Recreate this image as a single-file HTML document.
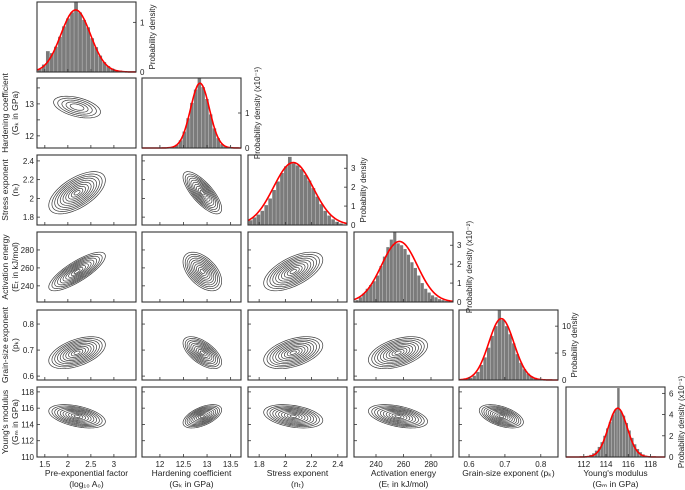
<!DOCTYPE html>
<html><head><meta charset="utf-8"><style>
html,body{margin:0;padding:0;background:#fff;}
svg{display:block;font-family:"Liberation Sans",sans-serif;}
</style></head><body>
<svg id="c" width="685" height="490" viewBox="0 0 685 490"></svg>
<script>
// ---- data ----
const varNames = ["Pre-exponential factor","Hardening coefficient","Stress exponent","Activation energy","Grain-size exponent","Young's modulus"];
const varUnits = ["(log\u2081\u2080 A\u2080)","(G\u2096 in GPa)","(n\u209c)","(E\u209c in kJ/mol)","(p\u2096)","(G\u2098 in GPa)"];
const xRanges = [[1.33,3.48],[11.62,13.72],[1.715,2.47],[224,296],[0.572,0.848],[110.4,119.3]];
const yRanges = [[0,1],[11.62,13.81],[1.716,2.463],[222,300],[0.585,0.854],[110,118.6]];
const xTicks = [[1.5,2,2.5,3],[12,12.5,13,13.5],[1.8,2,2.2,2.4],[240,260,280],[0.6,0.7,0.8],[112,114,116,118]];
const yTicks = [[],[12,12.5,13,13.5],[1.8,2,2.2,2.4],[240,260,280],[0.6,0.7,0.8],[110,112,114,116,118]];
const yTickLabels = [[],["12","","13",""],["1.8","2","2.2","2.4"],["240","260","280"],["0.6","0.7","0.8"],["110","112","114","116","118"]];
const histLo = [1.35,12.0,1.72,225,0.58,111];
const histHi = [3.45,13.6,2.47,295,0.84,119];
const hist0 = [0.06,0.15,0.42,0.38,0.51,0.71,0.92,1.08,1.2,1.41,1.2,1.05,0.9,0.68,0.5,0.33,0.2,0.12,0.07,0.04,0.03,0.02,0.01,0];
const hist1 = [0,0,0.01,0.03,0.09,0.22,0.47,0.85,1.29,1.67,2.0,1.74,1.4,0.96,0.56,0.28,0.11,0.04,0.01,0];
const hist2 = [0.25,0.4,0.55,0.75,1.05,1.4,1.85,2.3,2.75,3.1,3.6,3.25,3.15,2.95,2.65,2.35,1.95,1.5,1.1,0.75,0.5,0.3,0.17,0.08,0.03];
const hist3 = [0.1,0.25,0.45,0.7,0.9,1.1,1.4,1.9,2.4,2.9,3.3,3.7,3.1,3.0,2.8,2.5,2.1,1.8,1.4,1.0,0.7,0.5,0.35,0.25,0.15,0.1,0.05,0.02];
const hist4 = [0.1,0.2,0.4,0.8,1.5,2.8,4.2,6.0,8.2,10.0,13.0,11.2,10.0,8.5,6.8,4.8,3.2,2.0,1.2,0.7,0.4,0.2,0.1,0.05,0.02,0];
const hist5 = [0,0,0,0.02,0.05,0.1,0.2,0.35,0.6,0.95,1.4,2.0,2.7,3.3,4.0,4.5,6.5,4.3,3.9,3.2,2.5,1.8,1.2,0.75,0.45,0.25,0.12,0.06,0.03,0.01,0,0];
const hists = [hist0,hist1,hist2,hist3,hist4,hist5];
const fitMean = [2.17,12.85,2.06,257,0.69,115.05];
const fitSd = [0.32,0.2,0.15,13,0.035,0.85];
const fitPeak = [1.25,1.85,3.3,3.2,11.4,4.6];
const diagYMax = [1.41,2.0,3.7,3.7,13,6.6];
const diagTicks = [[0,1],[0,1],[0,1,2,3],[0,1,2,3],[0,5,10],[0,2,4,6]];
const diagLabel = ["Probability density","Probability density (x10\u207B\u00B9)","Probability density","Probability density (x10\u207B\u00B2)","Probability density","Probability density (x10\u207B\u00B9)"];
const postMean = [2.2,12.9,2.06,256,0.69,115.0];
const postSd = [0.3,0.2,0.11,10.5,0.03,0.7];
const rhoRow1 = [-0.45];
const rhoRow2 = [0.6,-0.75];
const rhoRow3 = [0.8,-0.5,0.6];
const rhoRow4 = [0.5,-0.6,0.45,0.45];
const rhoRow5 = [-0.45,0.55,-0.35,-0.45,-0.5];
const rhos = [[],rhoRow1,rhoRow2,rhoRow3,rhoRow4,rhoRow5];
const levelsFew = [0.5,0.8,1.1,1.4,1.7];
const levelsMany = [0.22,0.42,0.62,0.82,1.02,1.22,1.42,1.62,1.82,2.05];

// ---- layout ----
const colX = [37,142,248,354,459,566], rowY = [2,78,155,232,310,387], PW = 99, PH = 70;
const svg = document.getElementById('c');
const NS = 'http://www.w3.org/2000/svg';
function el(tag, attrs, parent){const e=document.createElementNS(NS,tag);for(const k in attrs)e.setAttribute(k,attrs[k]);(parent||svg).appendChild(e);return e;}
function sx(j,v){const r=xRanges[j];return colX[j]+(v-r[0])/(r[1]-r[0])*PW;}
function sy(i,v){const r=yRanges[i];return rowY[i]+PH-(v-r[0])/(r[1]-r[0])*PH;}
function dy(i,v){return rowY[i]+PH-v/diagYMax[i]*PH;}

for(let i=0;i<6;i++){
  for(let j=0;j<=i;j++){
    const g=el('g',{});
    
    
    const x0=colX[j], y0=rowY[i];
    if(i===j){
      const h=hists[i], n=h.length, bw=(histHi[i]-histLo[i])/n;
      for(let b=0;b<n;b++){
        const a=histLo[i]+b*bw, xa=sx(j,a), xb=sx(j,a+bw), yt=dy(i,h[b]);
        const r=el('rect',{x:xa,y:yt,width:Math.max(0,xb-xa-0.3),height:y0+PH-yt,fill:'#7b7b7b'},g);
        
        
      }
      let d='';
      for(let p=0;p<=200;p++){
        const v=xRanges[j][0]+(xRanges[j][1]-xRanges[j][0])*p/200;
        const z=(v-fitMean[i])/fitSd[i];
        d+=(p?'L':'M')+sx(j,v).toFixed(2)+','+dy(i,fitPeak[i]*Math.exp(-0.5*z*z)).toFixed(2);
      }
      const fit=el('path',{d:d,fill:'none',stroke:'#f00','stroke-width':1.6},g);
      
      
      diagTicks[i].forEach(t=>{
        const yy=dy(i,t);
        el('line',{x1:x0+PW,x2:x0+PW-3,y1:yy,y2:yy,stroke:'#333','stroke-width':0.8},g);
        const tl=el('text',{x:x0+PW+4,y:yy+3,'font-size':8,fill:'#222'},g);tl.textContent=t;
      });
      const cx=x0+PW+19, cy=y0+PH/2;
      const yl=el('text',{x:cx,y:cy,'font-size':8,fill:'#222','text-anchor':'middle',transform:'rotate(-90 '+cx+' '+cy+')'},g);
      yl.textContent=diagLabel[i];
      
      
    } else {
      const rho=rhos[i][j], lv=(i===1?levelsFew:levelsMany);
      lv.forEach(k=>{
        let d='';
        for(let p=0;p<=72;p++){
          const t=p/72*2*Math.PI;
          const vx=postMean[j]+k*postSd[j]*Math.cos(t);
          const vy=postMean[i]+k*postSd[i]*(rho*Math.cos(t)+Math.sqrt(1-rho*rho)*Math.sin(t));
          d+=(p?'L':'M')+sx(j,vx).toFixed(2)+','+sy(i,vy).toFixed(2);
        }
        const c=el('path',{d:d+'Z',fill:'none',stroke:'#3a3a3a','stroke-width':0.7},g);
        
        
      });
      yTicks[i].forEach((t,ti)=>{
        const yy=sy(i,t);
        el('line',{x1:x0,x2:x0+3,y1:yy,y2:yy,stroke:'#333','stroke-width':0.8},g);
        if(j===0&&yTickLabels[i][ti]){const tl=el('text',{x:x0-3,y:yy+3,'font-size':8,fill:'#222','text-anchor':'end'},g);tl.textContent=yTickLabels[i][ti];}
      });
    }
    xTicks[j].forEach(t=>{
      const xx=sx(j,t);
      el('line',{x1:xx,x2:xx,y1:y0+PH,y2:y0+PH-3,stroke:'#333','stroke-width':0.8},g);
      if(i===5){const tl=el('text',{x:xx,y:y0+PH+10,'font-size':8,fill:'#222','text-anchor':'middle'},g);tl.textContent=t;}
    });
    el('rect',{x:x0,y:y0,width:PW,height:PH,fill:'none',stroke:'#333','stroke-width':1.1},g);
  }
}
for(let j=0;j<6;j++){
  const cx=colX[j]+PW/2;
  const t=el('text',{x:cx,y:476,'font-size':8.5,fill:'#222','text-anchor':'middle'});
  
  
  if(j===4){t.textContent=varNames[j]+' '+varUnits[j];}
  else{t.textContent=varNames[j];const u=el('text',{x:cx,y:487,'font-size':8.5,fill:'#222','text-anchor':'middle'});u.textContent=varUnits[j];}
}
for(let i=1;i<6;i++){
  const cy=rowY[i]+PH/2;
  const t=el('text',{x:8,y:cy,'font-size':8.5,fill:'#222','text-anchor':'middle',transform:'rotate(-90 8 '+cy+')'});
  t.textContent=varNames[i];
  
  
  const u=el('text',{x:18,y:cy,'font-size':8.5,fill:'#222','text-anchor':'middle',transform:'rotate(-90 18 '+cy+')'});
  u.textContent=varUnits[i];
}
</script>
</body></html>
